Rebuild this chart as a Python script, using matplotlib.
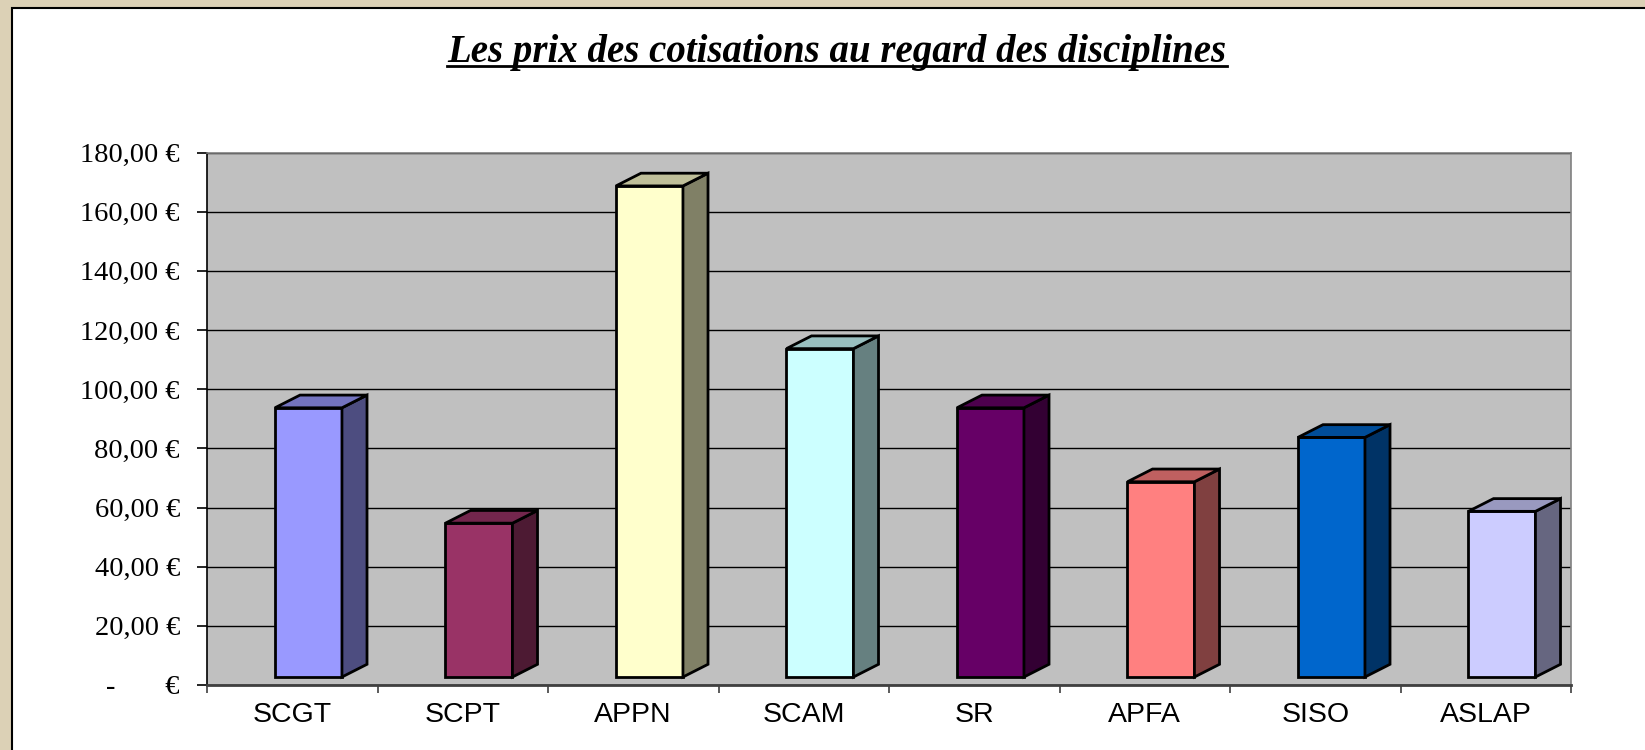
import numpy as np
import matplotlib
matplotlib.use('Agg')
import matplotlib.pyplot as plt
from matplotlib.patches import Polygon, Rectangle
from matplotlib.lines import Line2D
from matplotlib.colors import to_rgb

# data
categories = ['SCGT', 'SCPT', 'APPN', 'SCAM', 'SR', 'APFA', 'SISO', 'ASLAP']
prices = [91, 52, 166, 111, 91, 66, 81, 56]
bar_colors = ['#9999FF', '#993366', '#FFFFCC', '#CCFFFF', '#660066', '#FF8080', '#0066CC', '#CCCCFF']
y_ticks = [0, 20, 40, 60, 80, 100, 120, 140, 160, 180]
title = 'Les prix des cotisations au regard des disciplines'

W, H = 1645, 750
fig = plt.figure(figsize=(W / 100, H / 100), dpi=100)
fig.patch.set_facecolor('#dcd1b6')

# white panel with black frame
panel = Rectangle((12 / W, -0.05), 1.2, (H - 8) / H + 0.05, transform=fig.transFigure,
                  facecolor='white', edgecolor='black', lw=1.5, zorder=-10)
fig.patches.append(panel)

ax = fig.add_axes([207 / W, 1 - 685 / H, (1571 - 207) / W, (685 - 152.5) / H])
ax.set_facecolor('#C0C0C0')
ax.set_xlim(-0.5, len(categories) - 0.5)
ax.set_ylim(0, 180)

# 3d-ish columns
base = 2.7      # floor lift of the front face
off = 0.095     # front face shift from category centre
w = 0.393
dx = 0.147
dy = 4.3

x = np.arange(len(categories))
ax.bar(x + off, prices, width=w, bottom=base, color=bar_colors, edgecolor='black', lw=2.0, zorder=3)
for i, v in enumerate(prices):
    c = np.array(to_rgb(bar_colors[i]))
    xl = x[i] + off - w / 2
    xr = x[i] + off + w / 2
    top = base + v
    side = Polygon([(xr, base), (xr + dx, base + dy), (xr + dx, top + dy), (xr, top)],
                   closed=True, facecolor=c * 0.5, edgecolor='black', lw=2.0, zorder=3)
    cap = Polygon([(xl, top), (xl + dx, top + dy), (xr + dx, top + dy), (xr, top)],
                  closed=True, facecolor=c * 0.75, edgecolor='black', lw=2.0, zorder=3)
    ax.add_patch(side)
    ax.add_patch(cap)

# gridlines
ax.set_yticks(y_ticks)
ax.yaxis.grid(True, color='black', lw=1.0, zorder=1)
ax.set_axisbelow(True)

def euro(v):
    if v == 0:
        return '-       €'
    return ('%.2f €' % v).replace('.', ',')

ax.set_yticklabels([euro(v) for v in y_ticks], fontfamily='Liberation Serif', fontsize=20.5)
ax.tick_params(axis='y', length=7.5, width=1.2, pad=12, color='black')

# category boundaries as major ticks, labels on the minor ones
ax.set_xticks(np.arange(-0.5, len(categories), 1.0))
ax.set_xticklabels([])
ax.set_xticks(x, minor=True)
ax.set_xticklabels(categories, minor=True, fontfamily='Liberation Sans', fontsize=20.5)
ax.tick_params(axis='x', which='major', length=6, width=1.2, color='#404040')
ax.tick_params(axis='x', which='minor', length=0, pad=12)

for s in ['top', 'right']:
    ax.spines[s].set_color('#808080')
    ax.spines[s].set_linewidth(1.2)
ax.spines['left'].set_color('black')
ax.spines['left'].set_linewidth(1.2)
ax.spines['bottom'].set_color('#404040')
ax.spines['bottom'].set_linewidth(2)

# underlined bold italic title
t = fig.text(837 / W, 1 - 62 / H, title, ha='center', va='baseline',
             fontfamily='Liberation Serif', fontweight='bold', fontstyle='italic', fontsize=28)
fig.canvas.draw()
bb = t.get_window_extent()
fig.lines.append(Line2D([bb.x0 / W, bb.x1 / W], [1 - 65.5 / H, 1 - 65.5 / H],
                        transform=fig.transFigure, color='black', lw=2))

fig.savefig('out.png', dpi=100, facecolor=fig.get_facecolor())
